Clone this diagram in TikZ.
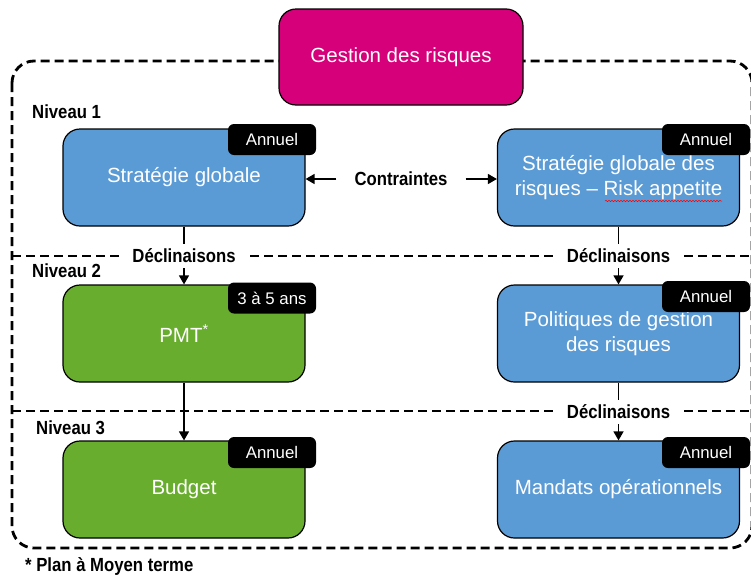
\documentclass[tikz,border=0pt]{standalone}
\usepackage{fontspec}
\setmainfont{Liberation Sans}
\newfontfamily\labelfont[FakeStretch=0.88]{Liberation Sans Bold}
\usetikzlibrary{arrows.meta}
\usetikzlibrary{decorations.pathmorphing}

\definecolor{rose}{HTML}{D5007A}
\definecolor{bleu}{HTML}{5B9BD5}
\definecolor{vert}{HTML}{69AD2F}

\tikzset{
  bloc/.style={draw=black, line width=1.2pt, rounded corners=17pt, minimum width=242pt,
    minimum height=97pt, text=white, align=center, font=\fontsize{20.5}{25.5}\selectfont},
  blocbleu/.style={bloc, fill=bleu},
  blocvert/.style={bloc, fill=vert},
  etiquette/.style={fill=black, rounded corners=6pt, minimum width=88pt, minimum height=31pt,
    inner sep=0pt, text=white, font=\fontsize{16.8}{18}\selectfont},
  titre/.style={inner sep=0pt, font=\labelfont\fontsize{19}{20}\selectfont},
  decl/.style={titre, fill=white, inner xsep=12pt, inner ysep=5pt},
  pointille/.style={line width=2.8pt, dash pattern=on 9pt off 5pt},
}

\begin{document}
\begin{tikzpicture}[x=1pt, y=-1pt, line cap=butt, line join=round, >={Triangle[width=10pt,length=9pt]}]
\useasboundingbox (0,0) rectangle (751,576);

% cadre et niveaux
\draw[pointille, rounded corners=22pt] (12,61) rectangle (752,548);
\draw[pointille] (12,256) -- (752,256);
\draw[pointille] (12,411) -- (752,411);

\node[titre, anchor=west] (niv1) at (32,112) {Niveau 1};
\node[titre, anchor=west] (niv2) at (32,271) {Niveau 2};
\node[titre, anchor=west] (niv3) at (36,428) {Niveau 3};

%---------------------------------------------------------------------------------------------------
% niveau 1
\node[blocbleu] (strat) at (184,177.5) {Strat\'egie globale};
\node[blocbleu] (appet) at (618.5,177.5) {Strat\'egie globale des\\risques -- Risk appetite};
\draw[red, line width=0.5pt, decorate, decoration={snake, amplitude=0.7pt, segment length=3pt}]
  (605,201) -- (722,201);
\node[etiquette] (tag1) at (272,139.5) {Annuel};
\node[etiquette] (tag2) at (706,139.5) {Annuel};

\node[titre, inner xsep=18pt] (contr) at (401,179) {Contraintes};
\draw[->, line width=1.4pt] (contr.west) -- (contr.west -| strat.east);
\draw[->, line width=1.4pt] (contr.east) -- (contr.east -| appet.west);

%---------------------------------------------------------------------------------------------------
% niveau 2
\node[blocvert] (pmt) at (184,333.5) {PMT\textsuperscript{*}};
\node[blocbleu] (polit) at (618.5,333.5) {Politiques de gestion\\des risques};
\node[etiquette] (tag3) at (272,298) {3 \`a 5 ans};
\node[etiquette] (tag4) at (706,296.5) {Annuel};

\node[decl] (decl1) at (184,256) {D\'eclinaisons};
\node[decl] (decl2) at (618.5,256) {D\'eclinaisons};
\draw[line width=1.4pt] (strat.south) -- (decl1.north);
\draw[->, line width=1.4pt] (decl1.south) -- (pmt.north);
\draw[line width=1.4pt] (appet.south) -- (decl2.north);
\draw[->, line width=1.4pt] (decl2.south) -- (polit.north);

%---------------------------------------------------------------------------------------------------
% niveau 3
\node[blocvert] (budget) at (184,489.5) {Budget};
\node[blocbleu] (mandat) at (618.5,489.5) {Mandats op\'erationnels};
\node[etiquette] (tag5) at (272,452.5) {Annuel};
\node[etiquette] (tag6) at (706,452.5) {Annuel};

\node[decl] (decl3) at (618.5,412) {D\'eclinaisons};
\draw[->, line width=1.4pt] (pmt.south) -- (budget.north);
\draw[line width=1.4pt] (polit.south) -- (decl3.north);
\draw[->, line width=1.4pt] (decl3.south) -- (mandat.north);

%---------------------------------------------------------------------------------------------------
\node[bloc, fill=rose, minimum width=244pt, minimum height=96pt] (gestion) at (401,57) {Gestion des risques};

\node[titre, anchor=west] (note) at (25,566) {* Plan \`a Moyen terme};

\end{tikzpicture}
\end{document}
